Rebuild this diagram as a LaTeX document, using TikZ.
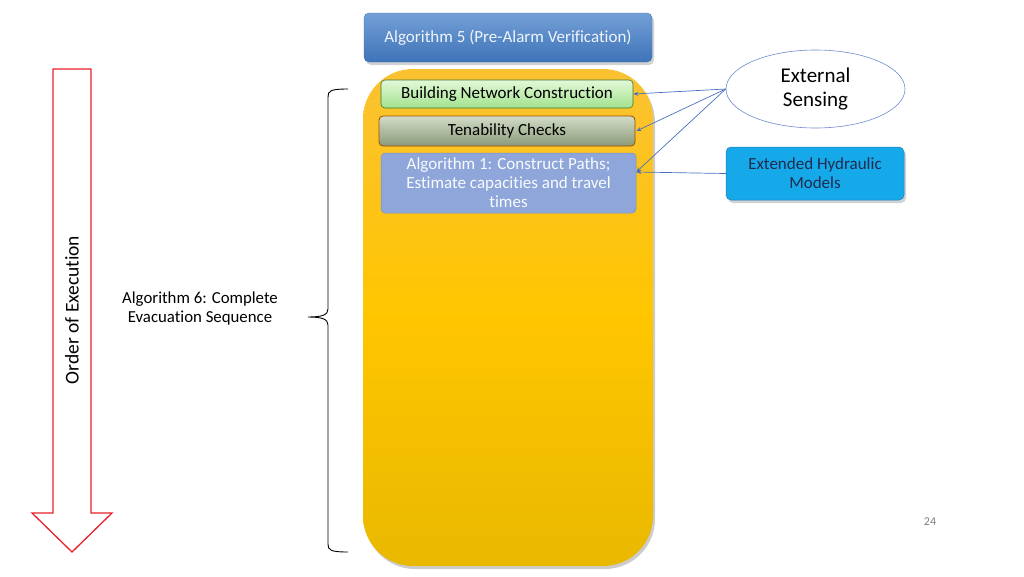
\documentclass[tikz,border=0pt]{standalone}
\usepackage{fontspec}
\setmainfont{Carlito}[Ligatures=NoCommon]
\usetikzlibrary{shapes.geometric,arrows.meta}
\definecolor{algblue}{HTML}{5B8FD0}
\definecolor{algbluedk}{HTML}{3E73B8}
\definecolor{orangetop}{HTML}{FAC232}
\definecolor{orangemid}{HTML}{FFC600}
\definecolor{orangebot}{HTML}{E9B800}
\definecolor{greentop}{HTML}{E2F8D8}
\definecolor{greenbot}{HTML}{A2E28E}
\definecolor{greenbd}{HTML}{3E7A33}
\definecolor{grytop}{HTML}{D3DCC8}
\definecolor{grybot}{HTML}{8A9A78}
\definecolor{peri}{HTML}{8EA6DA}
\definecolor{peribd}{HTML}{7890C8}
\definecolor{hydro}{HTML}{16A9EA}
\definecolor{hydrobd}{HTML}{1F7FB8}
\definecolor{navy}{HTML}{1E2C4E}
\definecolor{linkblue}{HTML}{4A6FC0}
\definecolor{redarrow}{HTML}{E8202A}
\tikzset{
  txt/.style={font=\fontsize{17}{20}\selectfont, inner sep=0pt},
  inbox/.style={rounded corners=4pt, minimum width=252pt, txt},
  link/.style={draw=linkblue, line width=0.7pt, -{Stealth[length=5pt,width=4pt]}},
}
\begin{document}
\begin{tikzpicture}[x=1pt,y=-1pt]
\useasboundingbox (0,0) rectangle (1024,576);
% top box
\fill[gray!35, rounded corners=5pt] (366,16) rectangle (654,65);
\node[txt, rounded corners=5pt, top color=algblue!85!white, bottom color=algbluedk,
      draw=algbluedk, line width=0.4pt, minimum width=288pt, minimum height=49pt,
      text=white!90!algblue] (alg5) at (508,37.5) {Algorithm 5 (Pre-Alarm Verification)};
% orange container
\fill[gray!40, rounded corners=50pt] (365,72) rectangle (655,569);
\node[rounded corners=50pt, top color=orangetop, bottom color=orangebot, middle color=orangemid,
      minimum width=290pt, minimum height=497pt, inner sep=0pt] (cont) at (508,317.5) {};
% inner boxes
\node[inbox, top color=greentop, bottom color=greenbot, draw=greenbd, line width=0.6pt,
      minimum height=28pt, text=black] (bnc) at (507,94) {Building Network Construction};
\node[inbox, top color=grytop, bottom color=grybot, draw=orange!60!black, line width=0.8pt,
      minimum width=256pt, minimum height=30pt, text=black] (ten) at (507,131) {Tenability Checks};
\node[inbox, fill=peri, draw=peribd, line width=0.5pt, minimum width=255pt, minimum height=60pt,
      align=center, text=white!95!peri, font=\fontsize{17}{19}\selectfont] (alg1) at (508.5,183)
      {Algorithm 1: Construct Paths;\\Estimate capacities and travel\\times};
% external sensing
\node[ellipse, draw=linkblue!80, line width=0.6pt, fill=white, minimum width=179pt, minimum height=78pt,
      align=center, font=\fontsize{21}{24}\selectfont, inner sep=0pt] (ext) at (815.5,89) {External\\Sensing};
% hydraulic
\fill[gray!35, rounded corners=5pt] (728,150) rectangle (906,203);
\node[txt, rounded corners=5pt, fill=hydro, draw=hydrobd, line width=0.5pt, minimum width=178pt,
      minimum height=53pt, align=center, text=navy, font=\fontsize{17}{19}\selectfont] (hyd) at (815,173.5) {Extended Hydraulic\\Models};
% links
\draw[link] (ext.west) -- ([yshift=0pt]bnc.east);
\draw[link] (ext.west) -- ([xshift=1pt]ten.east);
\draw[link] (ext.west) -- ([yshift=11pt]alg1.east);
\draw[link] (hyd.west) -- ([yshift=11pt]alg1.east);
% red arrow
\draw[redarrow, line width=1.3pt, line join=miter, fill=white]
  (53,69) -- (91,69) -- (91,513) -- (112,513) -- (72,552) -- (32,513) -- (53,513) -- cycle;
\node[txt, rotate=90, font=\fontsize{19.5}{22}\selectfont] (order) at (72,310) {Order of Execution};
% brace
\coordinate (btop) at (348,89);
\coordinate (bbot) at (348,552);
\coordinate (btip) at (308,317);
\draw[black, line width=0.9pt]
  (btop) .. controls (330,89) and (328,91) .. (328,97) -- (328,309)
  .. controls (328,315) and (322,317) .. (btip)
  .. controls (322,317) and (328,319) .. (328,325) -- (328,544)
  .. controls (328,550) and (330,552) .. (bbot);
\node[txt, align=center, font=\fontsize{16.8}{19}\selectfont] (alg6) at (200,309) {Algorithm 6: Complete\\Evacuation Sequence};
% page number
\node[txt, text=gray, font=\fontsize{12}{14}\selectfont] (pg) at (930,522) {24};
\end{tikzpicture}
\end{document}
